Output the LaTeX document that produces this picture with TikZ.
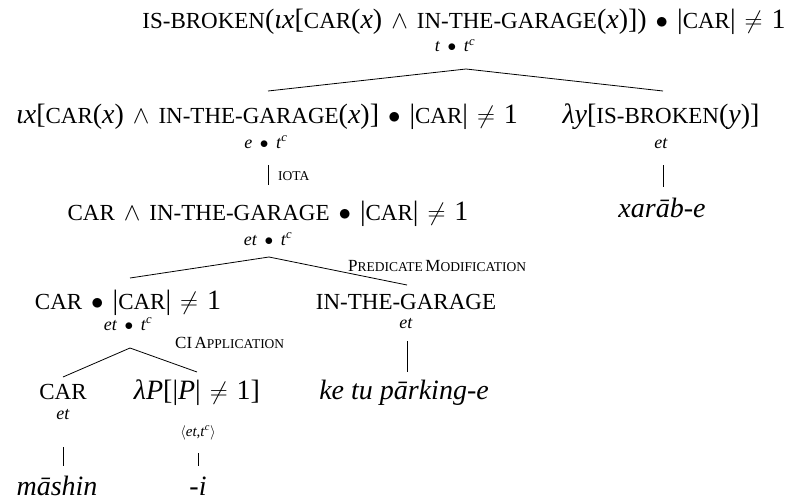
\documentclass[tikz,border=0pt]{standalone}
\usepackage{fontspec}
\setmainfont{Liberation Serif}
\newcommand\SC[1]{{\fontsize{23}{23}\selectfont #1}}
\newcommand\LC[1]{{\fontsize{13.5}{14}\selectfont #1}}
\newcommand\LB[1]{{\fontsize{17}{17}\selectfont #1}}
\newcommand\vx{\textit{x}}
\newcommand\gap{\hspace{9pt}}
\newcommand\tc{\textit{t}\textsuperscript{\textit{c}}}
\tikzset{
  tree/.style={font=\fontsize{28}{34}\selectfont, inner sep=0pt, anchor=base},
  typ/.style={font=\fontsize{18}{20}\selectfont, inner sep=0pt, anchor=base},
  lab/.style={inner sep=0pt, anchor=base west},
  edge/.style={line width=0.8pt}
}
\begin{document}
\begin{tikzpicture}[x=1pt,y=-1pt]
\path[use as bounding box] (0,0) rectangle (794,500);
% root
\node[tree] (root) at (464,29) {\SC{IS-BROKEN}(\textit{ιx}[\SC{CAR}(\vx)\gap$\wedge$\gap\SC{IN-THE-GARAGE}(\vx)])\gap$\bullet$\gap|\SC{CAR}|\gap$\neq$\gap1};
\node[typ] (rootT) at (455,52) {\textit{t}\, $\bullet$\, \tc};
\coordinate (a0) at (466,69);
\coordinate (a1) at (268,91);
\coordinate (a2) at (663,91);
\draw[edge] (a1) -- (a0) -- (a2);
% level 2 left
\node[tree] (iota) at (267,123) {\textit{ιx}[\SC{CAR}(\vx)\gap$\wedge$\gap\SC{IN-THE-GARAGE}(\vx)]\gap$\bullet$\gap|\SC{CAR}|\gap$\neq$\gap1};
\node[typ] (iotaT) at (266,148) {\textit{e}\, $\bullet$\, \tc};
\coordinate (b0) at (268,165);
\coordinate (b1) at (268,185);
\draw[edge] (b0) -- (b1);
\node[lab] (iotaL) at (278,180) {\LC{IOTA}};
% level 2 right
\node[tree] (brk) at (661,123) {\textit{λy}[\SC{IS-BROKEN}(\textit{y})]};
\node[typ] (brkT) at (661,148) {\textit{et}};
\coordinate (c0) at (663,165);
\coordinate (c1) at (663,187);
\draw[edge] (c0) -- (c1);
\node[tree] (xarab) at (662,217) {\textit{xarāb-e}};
% level 3
\node[tree] (pm) at (268,220) {\SC{CAR}\gap$\wedge$\gap\SC{IN-THE-GARAGE}\gap$\bullet$\gap|\SC{CAR}|\gap$\neq$\gap1};
\node[typ] (pmT) at (268,245) {\textit{et}\, $\bullet$\, \tc};
\coordinate (d0) at (269,257);
\coordinate (d1) at (130,278);
\coordinate (d2) at (407,285);
\draw[edge] (d1) -- (d0) -- (d2);
\node[lab] (pmL) at (348,271) {\LB{P}\LC{REDICATE} \LB{M}\LC{ODIFICATION}};
% level 4 left
\node[tree] (ci) at (128,309) {\SC{CAR}\gap$\bullet$\gap|\SC{CAR}|\gap$\neq$\gap1};
\node[typ] (ciT) at (128,330) {\textit{et}\, $\bullet$\, \tc};
\coordinate (e0) at (130,348);
\coordinate (e1) at (63,377);
\coordinate (e2) at (197,372);
\draw[edge] (e1) -- (e0) -- (e2);
\node[lab] (ciL) at (175,348) {\LB{CI} \LB{A}\LC{PPLICATION}};
% level 4 right
\node[tree] (itg) at (406,309) {\SC{IN-THE-GARAGE}};
\node[typ] (itgT) at (406,328) {\textit{et}};
\coordinate (f0) at (407,341);
\coordinate (f1) at (407,372);
\draw[edge] (f0) -- (f1);
\node[tree] (ketu) at (404,399) {\textit{ke tu pārking-e}};
% level 5
\node[tree] (car) at (63,399) {\SC{CAR}};
\node[typ] (carT) at (63,419) {\textit{et}};
\coordinate (g0) at (63,447);
\coordinate (g1) at (63,466);
\draw[edge] (g0) -- (g1);
\node[tree] (mashin) at (57,495) {\textit{māshin}};
\node[tree] (lamP) at (197,399) {\textit{λP}[|\textit{P}|\gap$\neq$\gap1]};
\node[typ] (lamPT) at (198,436) {\fontsize{15}{16}\selectfont $\langle$\textit{et},\tc$\rangle$};
\coordinate (h0) at (198,453);
\coordinate (h1) at (198,466);
\draw[edge] (h0) -- (h1);
\node[tree] (suffix) at (198,495) {\textit{-i}};
\end{tikzpicture}
\end{document}
